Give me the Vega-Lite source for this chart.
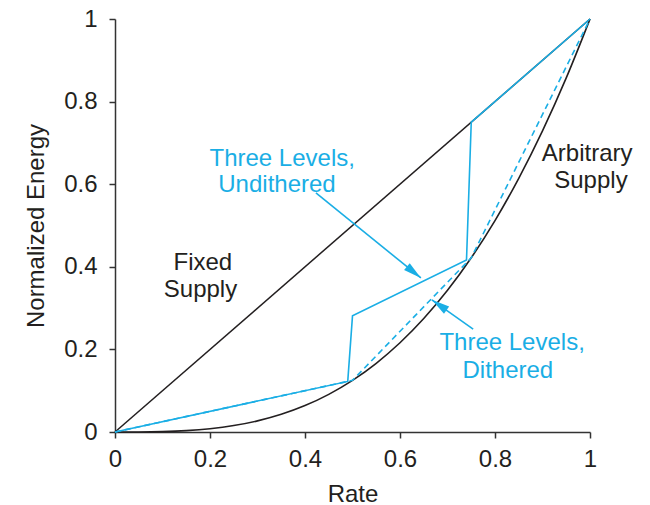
{
  "$schema": "https://vega.github.io/schema/vega-lite/v6.json",
  "width": 475,
  "height": 413,
  "autosize": {"type": "none"},
  "padding": {"left": 115, "top": 19, "right": 60, "bottom": 73},
  "background": "white",
  "config": {
    "view": {"stroke": null},
    "font": "Liberation Sans",
    "axis": {
      "grid": false,
      "domainColor": "#333333",
      "domainWidth": 1.5,
      "tickColor": "#333333",
      "tickWidth": 1.5,
      "tickSize": 6,
      "labelFont": "Liberation Sans",
      "labelFontSize": 24,
      "labelColor": "#231f20",
      "titleFont": "Liberation Sans",
      "titleFontSize": 24,
      "titleFontWeight": "normal",
      "titleColor": "#231f20"
    }
  },
  "datasets": {
    "fixed": [
      {"rate": 0, "energy": 0},
      {"rate": 1, "energy": 1}
    ],
    "arbitrary": [
      {"rate": 0, "energy": 0},
      {"rate": 0.05, "energy": 0.000125},
      {"rate": 0.1, "energy": 0.001},
      {"rate": 0.15, "energy": 0.003375},
      {"rate": 0.2, "energy": 0.008},
      {"rate": 0.25, "energy": 0.015625},
      {"rate": 0.3, "energy": 0.027},
      {"rate": 0.35, "energy": 0.042875},
      {"rate": 0.4, "energy": 0.064},
      {"rate": 0.45, "energy": 0.091125},
      {"rate": 0.5, "energy": 0.125},
      {"rate": 0.55, "energy": 0.166375},
      {"rate": 0.6, "energy": 0.216},
      {"rate": 0.65, "energy": 0.274625},
      {"rate": 0.7, "energy": 0.343},
      {"rate": 0.75, "energy": 0.421875},
      {"rate": 0.8, "energy": 0.512},
      {"rate": 0.85, "energy": 0.614125},
      {"rate": 0.9, "energy": 0.729},
      {"rate": 0.95, "energy": 0.857375},
      {"rate": 1, "energy": 1}
    ],
    "undithered": [
      {"rate": 0, "energy": 0, "o": 0},
      {"rate": 0.49, "energy": 0.1225, "o": 1},
      {"rate": 0.5, "energy": 0.28125, "o": 2},
      {"rate": 0.74, "energy": 0.41625, "o": 3},
      {"rate": 0.75, "energy": 0.75, "o": 4},
      {"rate": 1, "energy": 1, "o": 5}
    ],
    "dithered": [
      {"rate": 0, "energy": 0},
      {"rate": 0.5, "energy": 0.125},
      {"rate": 0.75, "energy": 0.421875},
      {"rate": 1, "energy": 1}
    ],
    "arrow1": [
      {"rate": 0.423, "energy": 0.579, "o": 0},
      {"rate": 0.644, "energy": 0.373, "o": 1}
    ],
    "arrow2": [
      {"rate": 0.754, "energy": 0.249, "o": 0},
      {"rate": 0.667, "energy": 0.32, "o": 1}
    ],
    "blackLabels": [
      {"rate": 0.185, "energy": 0.41, "label": "Fixed"},
      {"rate": 0.18, "energy": 0.343, "label": "Supply"},
      {"rate": 0.994, "energy": 0.673, "label": "Arbitrary"},
      {"rate": 1.002, "energy": 0.608, "label": "Supply"}
    ],
    "cyanLabels": [
      {"rate": 0.352, "energy": 0.661, "label": "Three Levels,"},
      {"rate": 0.341, "energy": 0.598, "label": "Undithered"},
      {"rate": 0.836, "energy": 0.2167, "label": "Three Levels,"},
      {"rate": 0.827, "energy": 0.1465, "label": "Dithered"}
    ]
  },
  "encoding": {
    "x": {
      "field": "rate", "type": "quantitative",
      "scale": {"domain": [0, 1], "nice": false, "zero": false},
      "axis": {"values": [0, 0.2, 0.4, 0.6, 0.8, 1], "format": "~g", "title": "Rate", "labelPadding": 9, "titlePadding": 11, "labelFlush": false}
    },
    "y": {
      "field": "energy", "type": "quantitative",
      "scale": {"domain": [0, 1], "nice": false, "zero": false},
      "axis": {"values": [0, 0.2, 0.4, 0.6, 0.8, 1], "format": "~g", "title": "Normalized Energy", "labelPadding": 12, "titlePadding": 15, "labelFlush": false}
    }
  },
  "layer": [
    {"data": {"name": "fixed"}, "mark": {"type": "line", "color": "#231f20", "strokeWidth": 1.5}},
    {"data": {"name": "arbitrary"}, "mark": {"type": "line", "color": "#231f20", "strokeWidth": 1.6, "interpolate": "monotone"}},
    {"data": {"name": "dithered"}, "mark": {"type": "line", "color": "#1aaee5", "strokeWidth": 1.6, "strokeDash": [6, 4]}},
    {"data": {"name": "undithered"}, "mark": {"type": "line", "color": "#1aaee5", "strokeWidth": 1.6}, "encoding": {"order": {"field": "o", "type": "quantitative"}}},
    {"data": {"name": "arrow1"}, "mark": {"type": "line", "color": "#1aaee5", "strokeWidth": 1.6}, "encoding": {"order": {"field": "o", "type": "quantitative"}}},
    {"data": {"name": "arrow2"}, "mark": {"type": "line", "color": "#1aaee5", "strokeWidth": 1.6}, "encoding": {"order": {"field": "o", "type": "quantitative"}}},
    {"data": {"name": "arrow1"}, "transform": [{"filter": "datum.o == 1"}], "mark": {"type": "point", "shape": "M0,0L-0.9,3.6L0.9,3.6Z", "size": 100, "filled": true, "color": "#1aaee5", "opacity": 1, "angle": 129}},
    {"data": {"name": "arrow2"}, "transform": [{"filter": "datum.o == 1"}], "mark": {"type": "point", "shape": "M0,0L-0.9,3.6L0.9,3.6Z", "size": 100, "filled": true, "color": "#1aaee5", "opacity": 1, "angle": 305}},
    {"data": {"name": "blackLabels"}, "mark": {"type": "text", "fontSize": 24, "color": "#231f20", "align": "center", "baseline": "middle"}, "encoding": {"text": {"field": "label"}}},
    {"data": {"name": "cyanLabels"}, "mark": {"type": "text", "fontSize": 24, "color": "#1aaee5", "align": "center", "baseline": "middle"}, "encoding": {"text": {"field": "label"}}}
  ]
}
